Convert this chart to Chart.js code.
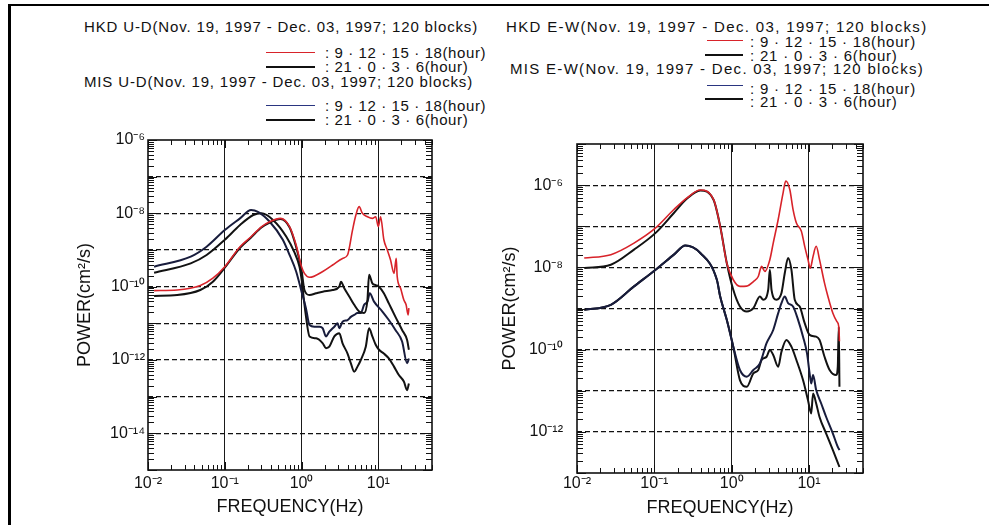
<!DOCTYPE html>
<html>
<head>
<meta charset="utf-8">
<script src="https://cdn.jsdelivr.net/npm/chart.js@4.4.1/dist/chart.umd.min.js"></script>
<style>
  body { margin: 0; background: #fff; width: 989px; height: 525px; overflow: hidden; position: relative;
         font-family: "Liberation Sans", Arial, sans-serif; color: #111; }
  .frame { position: absolute; left: 8px; top: 4px; right: 0; bottom: 0; border-left: 3px solid #000; border-top: 2px solid #000; }
  canvas { position: absolute; top: 0; }
  .t { position: absolute; white-space: nowrap; font-size: 15px; line-height: 18px; }
  .s { position: absolute; height: 0; }
</style>
</head>
<body>
<div class="frame"></div>

<!-- legend, left panel -->
<div class="t" style="left:84px;top:18px;letter-spacing:.85px">HKD U-D(Nov. 19, 1997 - Dec. 03, 1997; 120 blocks)</div>
<div class="s" style="left:266px;top:52px;width:49px;border-top:1.5px solid #d8232a"></div>
<div class="t" style="left:325px;top:44px;letter-spacing:.6px">: 9 · 12 · 15 · 18(hour)</div>
<div class="s" style="left:266px;top:66px;width:49px;border-top:2px solid #111"></div>
<div class="t" style="left:325px;top:58px;letter-spacing:.6px">: 21 · 0 · 3 · 6(hour)</div>
<div class="t" style="left:84px;top:73px;letter-spacing:.85px">MIS U-D(Nov. 19, 1997 - Dec. 03, 1997; 120 blocks)</div>
<div class="s" style="left:266px;top:105px;width:49px;border-top:1.5px solid #2a3580"></div>
<div class="t" style="left:325px;top:97px;letter-spacing:.6px">: 9 · 12 · 15 · 18(hour)</div>
<div class="s" style="left:266px;top:119px;width:49px;border-top:2px solid #111"></div>
<div class="t" style="left:325px;top:111px;letter-spacing:.6px">: 21 · 0 · 3 · 6(hour)</div>

<!-- legend, right panel -->
<div class="t" style="left:506px;top:18px;letter-spacing:1.35px">HKD E-W(Nov. 19, 1997 - Dec. 03, 1997; 120 blocks)</div>
<div class="s" style="left:707px;top:40px;width:36px;border-top:1.5px solid #d8232a"></div>
<div class="t" style="left:750px;top:33px;letter-spacing:.8px">: 9 · 12 · 15 · 18(hour)</div>
<div class="s" style="left:705px;top:54px;width:38px;border-top:2px solid #111"></div>
<div class="t" style="left:750px;top:47px;letter-spacing:.8px">: 21 · 0 · 3 · 6(hour)</div>
<div class="t" style="left:510px;top:60px;letter-spacing:1.3px">MIS E-W(Nov. 19, 1997 - Dec. 03, 1997; 120 blocks)</div>
<div class="s" style="left:707px;top:85px;width:36px;border-top:1.5px solid #2a3580"></div>
<div class="t" style="left:750px;top:80px;letter-spacing:.8px">: 9 · 12 · 15 · 18(hour)</div>
<div class="s" style="left:705px;top:98px;width:38px;border-top:2px solid #111"></div>
<div class="t" style="left:750px;top:93px;letter-spacing:.8px">: 21 · 0 · 3 · 6(hour)</div>

<canvas id="ud" width="480" height="525" style="left:0"></canvas>
<canvas id="ew" width="499" height="525" style="left:490px"></canvas>

<script>
// tick labels
const xTickValues = [0.01, 0.1, 1, 10];
const xTickLabels = ['10⁻²', '10⁻¹', '10⁰', '10¹'];
const udYTickValues = [1e-6, 1e-8, 1e-10, 1e-12, 1e-14];
const udYTickLabels = ['10⁻⁶', '10⁻⁸', '10⁻¹⁰', '10⁻¹²', '10⁻¹⁴'];
const ewYTickValues = [1e-6, 1e-8, 1e-10, 1e-12];
const ewYTickLabels = ['10⁻⁶', '10⁻⁸', '10⁻¹⁰', '10⁻¹²'];

// U-D, HKD 9-12-15-18 h (red)
const hkdUdDayFreq = [0.012, 0.024, 0.048, 0.07, 0.10, 0.158, 0.22, 0.30, 0.385, 0.53, 0.70, 0.85, 1.0, 1.09, 1.27, 1.89, 2.54, 3.42, 3.97, 4.61, 5.1, 5.62, 6.2, 7.21, 8.36, 9.24, 10.0, 10.7, 11.8, 13.1, 14.4, 16.0, 17.1, 17.6, 19.5, 21.5, 23.0, 24.4, 25.0];
const hkdUdDayPow = [7.8e-11, 8.1e-11, 1.07e-10, 1.7e-10, 3.5e-10, 1.23e-9, 2.3e-9, 4.3e-9, 5.9e-9, 7.3e-9, 4.3e-9, 1.37e-9, 3.5e-10, 2.3e-10, 1.8e-10, 2.6e-10, 3.9e-10, 5.9e-10, 7.3e-10, 3.5e-9, 9.0e-9, 1.52e-8, 1.0e-8, 8.1e-9, 7.3e-9, 8.1e-9, 4.3e-9, 8.1e-9, 1.9e-9, 1.0e-9, 5.4e-10, 2.3e-10, 5.9e-10, 1.9e-10, 9.0e-11, 4.3e-11, 3.2e-11, 1.7e-11, 2.6e-11];
// U-D, HKD 21-0-3-6 h
const hkdUdNightFreq = [0.012, 0.024, 0.048, 0.07, 0.10, 0.158, 0.22, 0.30, 0.385, 0.53, 0.70, 0.85, 1.0, 1.09, 1.27, 1.55, 1.89, 2.54, 3.10, 3.26, 3.60, 4.18, 4.85, 5.62, 6.53, 7.21, 7.57, 8.36, 9.24, 10.2, 11.8, 13.7, 16.7, 20.4, 23.7, 25.0];
const hkdUdNightPow = [5.6e-11, 5.9e-11, 8.1e-11, 1.37e-10, 3.3e-10, 1.15e-9, 2.2e-9, 4.1e-9, 5.6e-9, 7.0e-9, 4.1e-9, 1.2e-9, 2.8e-10, 8.1e-11, 5.9e-11, 6.6e-11, 7.3e-11, 8.1e-11, 1.0e-10, 1.37e-10, 9.0e-11, 5.4e-11, 3.2e-11, 2.1e-11, 1.9e-11, 4.3e-11, 2.1e-10, 1.23e-10, 1.1e-10, 1.0e-10, 6.6e-11, 3.5e-11, 1.5e-11, 6.6e-12, 3.5e-12, 1.9e-12];
// U-D, MIS 9-12-15-18 h
const misUdDayFreq = [0.012, 0.036, 0.058, 0.10, 0.158, 0.22, 0.27, 0.385, 0.57, 0.70, 0.85, 1.0, 1.14, 1.27, 1.47, 1.71, 1.89, 2.08, 2.30, 2.67, 2.95, 3.10, 3.42, 3.97, 4.39, 4.85, 5.35, 5.91, 6.53, 7.21, 7.73, 8.79, 11.3, 13.7, 16.7, 20.4, 23.7, 25.0];
const misUdDayPow = [3.5e-10, 6.6e-10, 1.23e-9, 3.5e-9, 7.3e-9, 1.23e-8, 1.1e-8, 5.9e-9, 1.9e-9, 7.2e-10, 2.6e-10, 7.3e-11, 2.6e-11, 9.0e-12, 8.1e-12, 8.1e-12, 7.3e-12, 4.4e-12, 5.9e-12, 8.1e-12, 1.0e-11, 7.3e-12, 1.1e-11, 1.23e-11, 1.5e-11, 1.7e-11, 1.9e-11, 1.9e-11, 3.2e-11, 3.9e-11, 6.6e-11, 3.9e-11, 2.1e-11, 1.23e-11, 6.6e-12, 3.2e-12, 8.1e-13, 1.1e-12];
// U-D, MIS 21-0-3-6 h
const misUdNightFreq = [0.012, 0.036, 0.058, 0.10, 0.158, 0.235, 0.30, 0.425, 0.634, 0.80, 0.94, 1.0, 1.12, 1.27, 1.55, 1.89, 2.08, 2.30, 2.67, 3.10, 3.42, 3.97, 4.39, 4.85, 5.35, 5.91, 6.86, 7.57, 8.36, 9.24, 10.2, 11.8, 13.7, 16.0, 18.5, 21.5, 23.7, 25.0];
const misUdNightPow = [2.4e-10, 4.3e-10, 7.3e-10, 1.9e-9, 4.8e-9, 9.0e-9, 1.0e-8, 6.6e-9, 2.3e-9, 9.0e-10, 3.5e-10, 1.6e-10, 2.1e-11, 4.4e-12, 3.9e-12, 2.85e-12, 2.1e-12, 2.3e-12, 4.4e-12, 5.4e-12, 2.85e-12, 1.5e-12, 8.1e-13, 4.8e-13, 6.6e-13, 1.0e-12, 2.3e-12, 7.3e-12, 4.4e-12, 2.6e-12, 1.9e-12, 1.5e-12, 1.1e-12, 6.6e-13, 3.9e-13, 2.6e-13, 1.5e-13, 2.3e-13];

// E-W, HKD 9-12-15-18 h (red)
const hkdEwDayFreq = [0.0124, 0.0274, 0.0546, 0.104, 0.179, 0.265, 0.393, 0.583, 0.711, 0.865, 1.05, 1.28, 1.57, 1.91, 2.21, 2.44, 2.69, 3.12, 3.45, 4.00, 4.63, 5.01, 5.65, 6.23, 6.88, 7.98, 8.81, 9.72, 10.4, 11.3, 12.4, 13.7, 15.9, 17.6, 20.4, 23.0, 24.3, 24.8];
const hkdEwDayPow = [1.69e-8, 2.04e-8, 3.9e-8, 9.1e-8, 2.55e-7, 4.9e-7, 7.6e-7, 4.5e-7, 1.0e-7, 1.28e-8, 5.0e-9, 3.45e-9, 3.5e-9, 4.5e-9, 6.0e-9, 1.06e-8, 8.0e-9, 1.54e-8, 3.9e-8, 1.46e-7, 6.5e-7, 1.26e-6, 7.8e-7, 2.55e-7, 1.2e-7, 7.6e-8, 3.25e-8, 1.54e-8, 9.6e-9, 1.85e-8, 3.25e-8, 1.54e-8, 4.15e-9, 1.96e-9, 7.7e-10, 4.8e-10, 3.6e-10, 1.6e-10];
// E-W, HKD 21-0-3-6 h
const hkdEwNightFreq = [0.0124, 0.0274, 0.0546, 0.104, 0.179, 0.265, 0.393, 0.583, 0.711, 0.865, 1.05, 1.28, 1.57, 1.91, 2.32, 2.56, 2.97, 3.12, 3.28, 3.80, 4.41, 4.87, 5.37, 5.93, 6.55, 7.59, 8.81, 10.2, 12.4, 13.7, 15.9, 18.5, 22.5, 23.6, 24.3, 24.8];
const hkdEwNightPow = [9.6e-9, 1.16e-8, 2.7e-8, 6.9e-8, 2.1e-7, 4.7e-7, 7.4e-7, 4.4e-7, 1.0e-7, 1.28e-8, 2.85e-9, 1.12e-9, 8.4e-10, 1.02e-9, 1.96e-9, 1.63e-9, 2.85e-9, 8.8e-9, 2.85e-9, 1.63e-9, 2.37e-9, 7.3e-9, 1.69e-8, 8.8e-9, 1.63e-9, 1.12e-9, 4.4e-10, 2.28e-10, 2.07e-10, 1.72e-10, 6.7e-11, 3.2e-11, 2.4e-11, 3.85e-11, 3.6e-10, 1.25e-11];
// E-W, MIS 9-12-15-18 h
const misEwDayFreq = [0.0124, 0.0274, 0.0546, 0.104, 0.179, 0.252, 0.393, 0.644, 0.711, 0.865, 1.05, 1.28, 1.57, 1.91, 2.32, 2.83, 3.45, 4.00, 4.41, 4.87, 5.37, 6.23, 7.23, 8.38, 9.44, 10.2, 10.7, 11.3, 12.4, 14.4, 16.7, 20.4, 23.6, 24.8];
const misEwDayPow = [9.3e-10, 1.23e-9, 3.45e-9, 8.8e-9, 2.04e-8, 3.4e-8, 2.24e-8, 5.0e-9, 1.96e-9, 5.3e-10, 1.18e-10, 3.2e-11, 2.2e-11, 3.2e-11, 4.6e-11, 1.43e-10, 3.0e-10, 7.7e-10, 1.35e-9, 1.96e-9, 1.35e-9, 1.12e-9, 5.3e-10, 2.07e-10, 8.1e-11, 2.65e-11, 1.51e-11, 2.4e-11, 1.04e-11, 4.9e-12, 2.3e-12, 9.1e-13, 4.3e-13, 3.6e-13];
// E-W, MIS 21-0-3-6 h
const misEwNightFreq = [0.0124, 0.0274, 0.0546, 0.104, 0.179, 0.252, 0.393, 0.644, 0.711, 0.865, 1.05, 1.28, 1.57, 1.91, 2.21, 2.44, 2.83, 3.12, 3.45, 4.00, 4.41, 5.11, 5.93, 6.88, 8.38, 9.72, 10.7, 11.3, 12.4, 13.7, 16.7, 20.4, 24.8];
const misEwNightPow = [9.3e-10, 1.23e-9, 3.45e-9, 8.8e-9, 2.04e-8, 3.4e-8, 2.24e-8, 5.0e-9, 1.96e-9, 5.3e-10, 1.18e-10, 1.82e-11, 1.25e-11, 2.65e-11, 3.2e-11, 5.6e-11, 6.7e-11, 9.8e-11, 7.4e-11, 3.85e-11, 8.9e-11, 1.72e-10, 1.18e-10, 5.6e-11, 1.82e-11, 5.9e-12, 2.8e-12, 8.6e-12, 4.9e-12, 2.3e-12, 9.1e-13, 3.6e-13, 1.4e-13];

const FONT = "'Liberation Sans', Arial, sans-serif";
const RED = '#d8232a', BLACK = '#121212', NAVY = '#181c3c';

// 1..9 x 10^n ticks over the range, like the printed axes
function logTicks(min, max) {
  const out = [];
  for (let e = Math.floor(Math.log10(min)); e <= Math.ceil(Math.log10(max)); e++) {
    for (let s = 1; s < 10; s++) {
      const v = s * Math.pow(10, e);
      if (v >= min * 0.999 && v <= max * 1.001) out.push({ value: v, major: s === 1 });
    }
  }
  return out;
}
function labelFor(values, labels) {
  return v => {
    const i = values.findIndex(t => Math.abs(v / t - 1) < 1e-6);
    return i < 0 ? '' : labels[i];
  };
}
function innerDecade(ctx, min, max) {
  if (!ctx.tick) return false;
  const v = ctx.tick.value, l = Math.log10(v);
  return Math.abs(l - Math.round(l)) < 1e-6 && v > min * 1.01 && v < max * 0.99;
}

function series(f, p, color, w) {
  return {
    data: f.map((v, i) => ({ x: v, y: p[i] })),
    borderColor: color, borderWidth: w, pointRadius: 0, fill: false,
    cubicInterpolationMode: 'monotone'
  };
}

// frame and inward ticks on all four sides
const frameTicks = {
  id: 'frameTicks',
  afterDraw(chart) {
    const { ctx, chartArea: a, scales: { x, y } } = chart;
    ctx.save();
    ctx.strokeStyle = '#111';
    ctx.lineWidth = 1;
    ctx.beginPath();
    x.ticks.forEach(t => {
      const px = Math.round(x.getPixelForValue(t.value)) + 0.5;
      const len = t.major ? 8 : 5;
      ctx.moveTo(px, a.bottom); ctx.lineTo(px, a.bottom - len);
      ctx.moveTo(px, a.top); ctx.lineTo(px, a.top + len);
    });
    y.ticks.forEach(t => {
      const py = Math.round(y.getPixelForValue(t.value)) + 0.5;
      const len = t.major ? 9 : 6;
      ctx.moveTo(a.left, py); ctx.lineTo(a.left + len, py);
      ctx.moveTo(a.right, py); ctx.lineTo(a.right - len, py);
    });
    ctx.stroke();
    ctx.lineWidth = 1.6;
    ctx.strokeRect(a.left, a.top, a.width, a.height);
    ctx.restore();
  }
};

function options(o) {
  return {
    responsive: false, animation: false, events: [],
    layout: { padding: o.pad },
    plugins: { legend: { display: false }, tooltip: { enabled: false } },
    scales: {
      x: {
        type: 'logarithmic', min: o.xMin, max: o.xMax,
        afterBuildTicks: s => { s.ticks = logTicks(o.xMin, o.xMax); },
        afterFit: s => { s.height = o.xH; },
        grid: { drawTicks: false, color: '#1a1a1a',
                lineWidth: c => innerDecade(c, o.xMin, o.xMax) ? 1 : 0 },
        border: { display: false },
        ticks: { autoSkip: false, maxRotation: 0, minRotation: 0, padding: o.xTickPad, color: '#111',
                 font: { family: FONT, size: o.tickSize }, callback: labelFor(xTickValues, xTickLabels) },
        title: { display: true, text: 'FREQUENCY(Hz)', color: '#111',
                 font: { family: FONT, size: o.titleSize }, padding: { top: 0, bottom: o.xTitlePad } }
      },
      y: {
        type: 'logarithmic', min: o.yMin, max: o.yMax,
        afterBuildTicks: s => { s.ticks = logTicks(o.yMin, o.yMax); },
        afterFit: s => { s.width = o.yW; },
        grid: { drawTicks: false, color: '#111',
                lineWidth: c => innerDecade(c, o.yMin, o.yMax) ? 1.2 : 0 },
        border: { display: false, dash: [5, 3] },
        ticks: { autoSkip: false, padding: o.yTickPad, color: '#111',
                 font: { family: FONT, size: o.tickSize }, callback: labelFor(o.yVals, o.yLabels) },
        title: { display: true, text: 'POWER(cm²/s)', color: '#111',
                 font: { family: FONT, size: o.titleSize }, padding: { top: o.yTitlePad, bottom: 0 } }
      }
    }
  };
}

new Chart(document.getElementById('ud'), {
  type: 'line',
  data: { datasets: [
    series(hkdUdDayFreq, hkdUdDayPow, RED, 1.6),
    series(hkdUdNightFreq, hkdUdNightPow, BLACK, 2),
    series(misUdDayFreq, misUdDayPow, NAVY, 2),
    series(misUdNightFreq, misUdNightPow, BLACK, 2)
  ] },
  options: options({
    pad: { left: 60, top: 140, right: 48, bottom: 0 },
    xMin: 0.01, xMax: 50, yMin: 1e-15, yMax: 1e-6,
    xH: 55, yW: 88, xTickPad: 4, yTickPad: 3, xTitlePad: 7, yTitlePad: 14,
    tickSize: 16, titleSize: 18, yVals: udYTickValues, yLabels: udYTickLabels
  }),
  plugins: [frameTicks]
});

new Chart(document.getElementById('ew'), {
  type: 'line',
  data: { datasets: [
    series(hkdEwDayFreq, hkdEwDayPow, RED, 1.6),
    series(hkdEwNightFreq, hkdEwNightPow, BLACK, 2),
    series(misEwDayFreq, misEwDayPow, NAVY, 2),
    series(misEwNightFreq, misEwNightPow, BLACK, 2)
  ] },
  options: options({
    pad: { left: 7, top: 144, right: 126, bottom: 0 },
    xMin: 0.01, xMax: 50, yMin: 1e-13, yMax: 1e-5,
    xH: 52, yW: 80, xTickPad: 1, yTickPad: 14, xTitlePad: 6, yTitlePad: 2,
    tickSize: 16, titleSize: 18, yVals: ewYTickValues, yLabels: ewYTickLabels
  }),
  plugins: [frameTicks]
});
</script>
</body>
</html>
